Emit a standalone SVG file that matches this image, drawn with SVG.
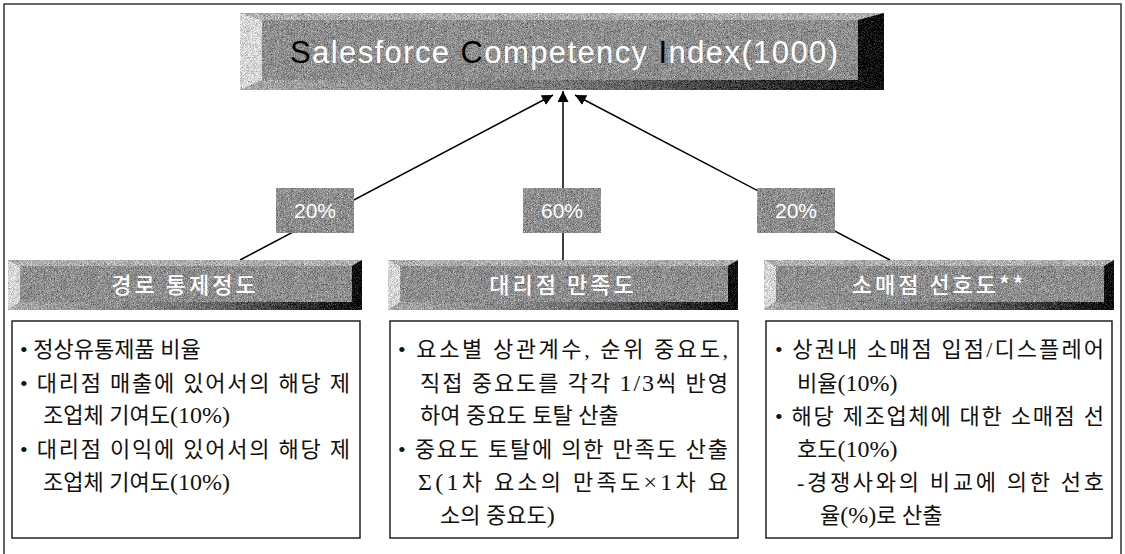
<svg xmlns="http://www.w3.org/2000/svg" width="1125" height="554" viewBox="0 0 1125 554">
<defs>
<filter id="grain" x="0" y="0" width="100%" height="100%" color-interpolation-filters="sRGB">
<feTurbulence type="fractalNoise" baseFrequency="1.3" numOctaves="1" seed="3" result="n"/>
<feColorMatrix in="n" type="matrix" values="0.33 0.33 0.33 0 0  0.33 0.33 0.33 0 0  0.33 0.33 0.33 0 0  0 0 0 0 1" result="g"/>
<feComposite in="SourceGraphic" in2="g" operator="arithmetic" k1="0" k2="1" k3="1.4" k4="-0.7" result="c"/>
<feComposite in="c" in2="SourceAlpha" operator="in"/>
</filter>
<linearGradient id="bot" x1="0" y1="0" x2="1" y2="0">
<stop offset="0" stop-color="#a8a8a8"/><stop offset="0.5" stop-color="#7a7a7a"/><stop offset="1" stop-color="#0a0a0a"/>
</linearGradient>
<marker id="ah" viewBox="0 0 10 10" refX="10" refY="5" markerWidth="11" markerHeight="11" markerUnits="userSpaceOnUse" orient="auto"><path d="M0,0 L10,5 L0,10 z" fill="#000"/></marker>
<style>
.face{fill:#8f8f8f}
.lt{fill:#d8d8d8}
.tp{fill:#b0b0b0}
.rt{fill:#0e0e0e}
.bt{fill:url(#bot)}
.hd{font-family:"Noto Sans CJK KR",sans-serif;font-weight:500;font-size:22px;fill:#fff;text-anchor:middle;letter-spacing:3px}
.pc{font-family:"Liberation Sans",sans-serif;font-size:21px;fill:#fff;text-anchor:middle}
.box{fill:#fff;stroke:#222;stroke-width:1.5}
.tx{font-family:"Liberation Serif","Noto Sans CJK KR",serif;font-size:22px;fill:#111}
.la{font-size:24px}
.ln{stroke:#000;stroke-width:1.5;fill:none}
</style>
</defs>
<rect x="0" y="0" width="1125" height="554" fill="#fff"/>
<path d="M4,560 L4,4 L1121,4 L1121,560" fill="none" stroke="#333" stroke-width="1.5"/>

<g id="connectors">
<line class="ln" x1="240" y1="260" x2="553" y2="95" marker-end="url(#ah)"/>
<line class="ln" x1="563" y1="260" x2="563" y2="91" marker-end="url(#ah)"/>
<line class="ln" x1="890" y1="260" x2="575" y2="95" marker-end="url(#ah)"/>
</g>

<g id="top">
<g filter="url(#grain)">
<rect x="240" y="13" width="644" height="77" class="face"/>
<polygon class="lt" points="240,13 262,20 262,80 240,90"/>
<polygon class="tp" points="240,13 884,13 858,20 262,20"/>
<polygon class="rt" points="884,13 884,90 858,80 858,20"/>
<polygon class="bt" points="240,90 884,90 858,80 262,80"/>
</g>
<text x="290" y="63" font-family="Liberation Sans, sans-serif" font-size="31" fill="#fff" textLength="548" lengthAdjust="spacing"><tspan fill="#000">S</tspan>alesforce <tspan fill="#000">C</tspan>ompetency <tspan fill="#000">I</tspan>ndex(1000)</text>
</g>

<g id="p1">
<rect x="276" y="188" width="78" height="45" class="face" filter="url(#grain)"/>
<text x="315" y="218" class="pc">20%</text>
</g>
<g id="p2">
<rect x="523" y="188" width="78" height="45" class="face" filter="url(#grain)"/>
<text x="562" y="218" class="pc">60%</text>
</g>
<g id="p3">
<rect x="757" y="188" width="78" height="45" class="face" filter="url(#grain)"/>
<text x="796" y="218" class="pc">20%</text>
</g>

<g id="h1">
<g filter="url(#grain)">
<rect x="8" y="260" width="354" height="50" class="face"/>
<polygon class="lt" points="8,260 20,266 20,302 8,310"/>
<polygon class="tp" points="8,260 362,260 352,266 20,266"/>
<polygon class="rt" points="362,260 362,310 352,302 352,266"/>
<polygon class="bt" points="8,310 362,310 352,302 20,302"/>
</g>
<text x="185" y="293" class="hd">경로 통제정도</text>
</g>
<g id="h2">
<g filter="url(#grain)">
<rect x="388" y="260" width="350" height="50" class="face"/>
<polygon class="lt" points="388,260 400,266 400,302 388,310"/>
<polygon class="tp" points="388,260 738,260 728,266 400,266"/>
<polygon class="rt" points="738,260 738,310 728,302 728,266"/>
<polygon class="bt" points="388,310 738,310 728,302 400,302"/>
</g>
<text x="563" y="293" class="hd">대리점 만족도</text>
</g>
<g id="h3">
<g filter="url(#grain)">
<rect x="764" y="260" width="350" height="50" class="face"/>
<polygon class="lt" points="764,260 776,266 776,302 764,310"/>
<polygon class="tp" points="764,260 1114,260 1104,266 776,266"/>
<polygon class="rt" points="1114,260 1114,310 1104,302 1104,266"/>
<polygon class="bt" points="764,310 1114,310 1104,302 776,302"/>
</g>
<text x="939" y="293" class="hd">소매점 선호도**</text>
</g>

<g id="b1">
<rect x="12" y="321" width="348" height="217" class="box"/>
<text class="tx" x="20" y="357">• 정상유통제품 비율</text>
<text class="tx" x="20" y="391" textLength="330" lengthAdjust="spacing">• 대리점 매출에 있어서의 해당 제</text>
<text class="tx" x="43" y="423">조업체 기여도<tspan class="la">(10%)</tspan></text>
<text class="tx" x="20" y="457" textLength="330" lengthAdjust="spacing">• 대리점 이익에 있어서의 해당 제</text>
<text class="tx" x="43" y="490">조업체 기여도<tspan class="la">(10%)</tspan></text>
</g>

<g id="b2">
<rect x="390" y="321" width="348" height="217" class="box"/>
<text class="tx" x="398" y="357" textLength="330" lengthAdjust="spacing">• 요소별 상관계수, 순위 중요도,</text>
<text class="tx" x="420" y="391" textLength="308" lengthAdjust="spacing">직접 중요도를 각각 <tspan class="la">1/3</tspan>씩 반영</text>
<text class="tx" x="420" y="423">하여 중요도 토탈 산출</text>
<text class="tx" x="398" y="457" textLength="330" lengthAdjust="spacing">• 중요도 토탈에 의한 만족도 산출</text>
<text class="tx" x="418" y="490" textLength="310" lengthAdjust="spacing"><tspan class="la">Σ(1</tspan>차 요소의 만족도<tspan class="la">×1</tspan>차 요</text>
<text class="tx" x="440" y="523">소의 중요도<tspan class="la">)</tspan></text>
</g>

<g id="b3">
<rect x="766" y="321" width="346" height="217" class="box"/>
<text class="tx" x="775" y="357" textLength="329" lengthAdjust="spacing">• 상권내 소매점 입점/디스플레어</text>
<text class="tx" x="797" y="391">비율<tspan class="la">(10%)</tspan></text>
<text class="tx" x="775" y="424" textLength="329" lengthAdjust="spacing">• 해당 제조업체에 대한 소매점 선</text>
<text class="tx" x="797" y="457">호도<tspan class="la">(10%)</tspan></text>
<text class="tx" x="797" y="490" textLength="307" lengthAdjust="spacing">-경쟁사와의 비교에 의한 선호</text>
<text class="tx" x="820" y="523">율<tspan class="la">(%)</tspan>로 산출</text>
</g>
</svg>
